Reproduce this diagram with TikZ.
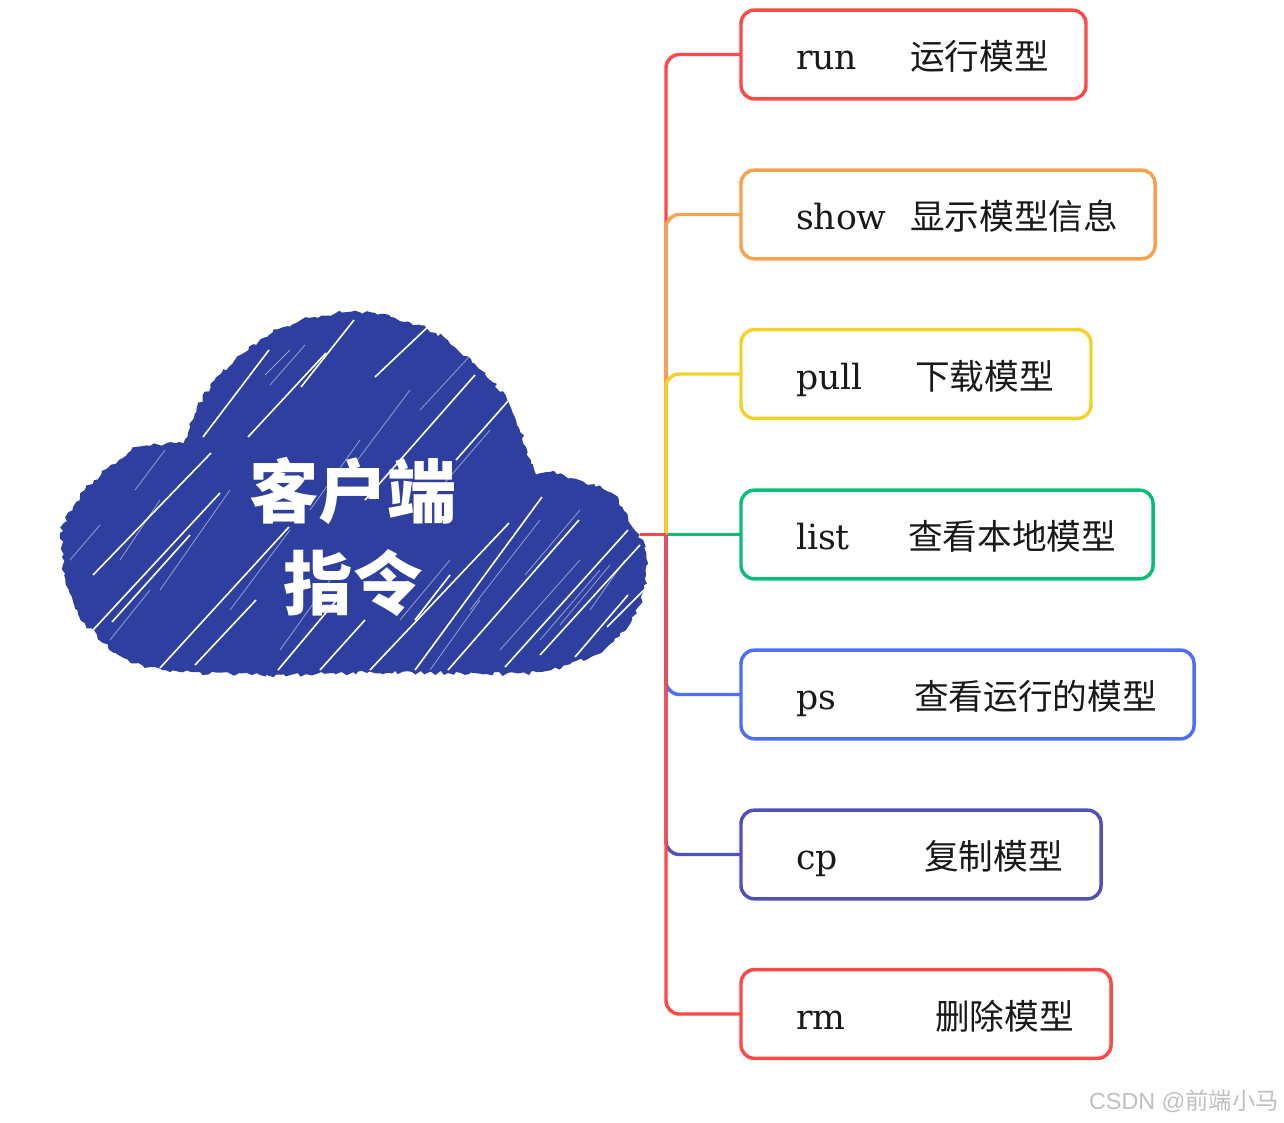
\documentclass[tikz,border=0pt]{standalone}
\usepackage{fontspec}
\usetikzlibrary{decorations.pathmorphing}
\setmainfont{DejaVu Serif}
\newfontfamily\cjk{Noto Sans CJK SC}
\newfontfamily\markfont{Liberation Sans}
\definecolor{cmdred}{HTML}{FB4A48}
\definecolor{cmdorange}{HTML}{F8A24F}
\definecolor{cmdyellow}{HTML}{F4D22C}
\definecolor{cmdgreen}{HTML}{0CBD78}
\definecolor{cmdblue}{HTML}{4F6EF5}
\definecolor{cmdindigo}{HTML}{4F50C0}
\definecolor{cloudblue}{HTML}{2F3F9F}
\tikzset{
  cmdbox/.style={draw, line width=2.6pt, rounded corners=10pt, anchor=west,
    minimum height=66.5pt, inner sep=0pt, outer sep=0pt,
    font=\fontsize{26}{30}\selectfont, text=black!90},
  branch/.style={line width=2.6pt, rounded corners=10pt},
  streak/.style={white, line width=1.2pt},
  thinstreak/.style={white, line width=0.6pt, opacity=0.5},
  title/.style={white, font=\cjk\bfseries\fontsize{52}{69}\selectfont, align=center}
}
\begin{document}
\begin{tikzpicture}[x=0.75pt, y=-0.75pt]
  \useasboundingbox (0,0) rectangle (1284,1123);
  % --- nuage ---
  \pgfmathsetseed{7}
  \fill[cloudblue, decorate, decoration={random steps, segment length=3pt, amplitude=1.6pt}]
    plot[smooth cycle] coordinates {(187,437) (179,442) (138,447) (109,467) (85,490) (64,523)
      (62,557) (69,590) (85,623) (122,657) (162,670) (260,675) (367,673) (448,673)
      (530,673) (591,657) (628,627) (644,590) (646,553) (628,517) (611,493) (579,480)
      (550,472) (536,473) (526,447) (509,403) (481,370) (436,333) (391,317) (350,312)
      (309,318) (273,332) (244,353) (215,380) (195,413)};
  % traits blancs
  \foreach \xa/\ya/\xb/\yb in {93/575/211/453, 93/630/220/493, 160/668/289/527, 112/622/190/535,
    195/665/256/600, 278/670/345/590, 370/670/509/523, 415/670/542/497, 448/670/579/520,
    505/667/628/530, 456/460/509/400, 375/377/432/323, 301/387/354/320, 248/437/326/353,
    203/437/269/350, 365/500/475/375, 540/655/640/545, 607/627/644/590, 575/657/628/595,
    320/670/365/620, 415/620/450/575}{
    \draw[streak] (\xa,\ya) -- (\xb,\yb);
  }
  \foreach \xa/\ya/\xb/\yb in {70/560/100/525, 120/560/160/500, 160/590/230/490, 230/610/290/530,
    280/650/330/580, 310/510/360/440, 350/470/410/390, 430/500/490/430, 400/620/450/560,
    470/610/540/520, 500/650/580/560, 265/375/290/350, 270/385/305/345, 540/640/600/570,
    110/640/150/590, 430/670/480/600, 525/575/580/510, 135/490/165/450, 420/410/480/345,
    560/625/610/565, 590/610/625/560}{
    \draw[thinstreak] (\xa,\ya) -- (\xb,\yb);
  }
  \node[title] (cloudtitle) at (353,537) {客户端\\指令};
  % --- commandes ---
  \foreach \name/\zh/\gapw/\boxw/\yy/\col in {run/运行模型/114/345/54.5/cmdred,
    show/显示模型信息/114/414/214.5/cmdorange, pull/下载模型/119/350/374/cmdyellow,
    list/查看本地模型/112/412/534.5/cmdgreen, ps/查看运行的模型/118/453/694.5/cmdblue,
    cp/复制模型/128/360/854.5/cmdindigo, rm/删除模型/139/370/1014/cmdred}{
    \node[cmdbox, draw=\col, minimum width=\boxw*0.75pt] (\name) at (741,\yy)
      {\makebox[\dimexpr\boxw pt*3/4\relax][l]{\hspace*{41.25pt}%
        \smash{\raisebox{-11.5pt}{\makebox[\dimexpr\gapw pt*3/4\relax][l]{\name}{\cjk \zh}}}}};
  }
  % --- liaisons ---
  \coordinate (stem) at (640,534.5);
  \coordinate (hub) at (666,534.5);
  \draw[branch, cmdgreen] (hub) -- (list);
  \foreach \name/\col in {run/cmdred, show/cmdorange, pull/cmdyellow,
    ps/cmdblue, cp/cmdindigo, rm/cmdred}{
    \draw[branch, \col] (hub) |- (\name.west);
  }
  \draw[branch, cmdred] (stem) -- (hub);
  \node[anchor=east, inner sep=0pt, text=black!25, font=\markfont\fontsize{17.5}{22}\selectfont]
    (watermark) at (1279,1101) {CSDN @{\cjk 前端小马}};
\end{tikzpicture}
\end{document}
